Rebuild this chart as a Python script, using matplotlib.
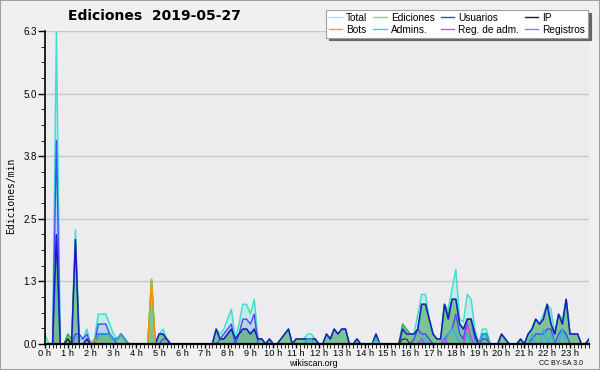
import matplotlib
matplotlib.use("Agg")
import matplotlib.pyplot as plt
from matplotlib.lines import Line2D
from matplotlib.patches import Rectangle
from matplotlib.ticker import FixedLocator, MultipleLocator
import numpy as np

# 10-minute bins, 00:00 .. 23:50, values in edits/min
total = [0.2, 0, 0, 6.3, 0, 0,
         0.2, 0.1, 2.3, 0.1, 0.1, 0.3,
         0, 0.1, 0.6, 0.6, 0.6, 0.4,
         0.2, 0.1, 0.2, 0.1, 0, 0,
         0, 0, 0, 0, 1.3, 0,
         0.2, 0.3, 0.1, 0, 0, 0,
         0, 0, 0, 0, 0, 0,
         0, 0, 0, 0.3, 0.2, 0.3,
         0.5, 0.7, 0.1, 0.4, 0.8, 0.8,
         0.6, 0.9, 0.1, 0.1, 0, 0.1,
         0, 0, 0.1, 0.2, 0.3, 0,
         0.1, 0.1, 0.1, 0.2, 0.2, 0.1,
         0, 0, 0.2, 0.1, 0.3, 0.2,
         0.3, 0.3, 0, 0, 0.1, 0,
         0, 0, 0, 0.2, 0, 0,
         0, 0, 0, 0, 0.4, 0.3,
         0.2, 0.2, 0.6, 1.0, 1.0, 0.5,
         0.2, 0.1, 0.1, 0.8, 0.7, 1.1,
         1.5, 0.5, 0.45, 1.0, 0.9, 0.3,
         0, 0.3, 0.3, 0, 0, 0,
         0.2, 0.1, 0, 0, 0, 0.1,
         0, 0.2, 0.3, 0.5, 0.4, 0.6,
         0.8, 0.7, 0.2, 0.6, 0.5, 0.9,
         0.2, 0.2, 0.2, 0, 0, 0.1]

ediciones = [0, 0, 0, 2.2, 0, 0,
             0.2, 0.1, 2.1, 0, 0, 0.1,
             0, 0.1, 0.2, 0.2, 0.2, 0.2,
             0.1, 0.1, 0.2, 0.1, 0, 0,
             0, 0, 0, 0, 1.3, 0,
             0.2, 0.2, 0.1, 0, 0, 0,
             0, 0, 0, 0, 0, 0,
             0, 0, 0, 0.3, 0.1, 0.1,
             0.2, 0.3, 0.1, 0.2, 0.3, 0.3,
             0.2, 0.3, 0.1, 0.1, 0, 0.1,
             0, 0, 0.1, 0.2, 0.3, 0,
             0.1, 0.1, 0.1, 0.1, 0.1, 0.1,
             0, 0, 0.2, 0.1, 0.3, 0.2,
             0.3, 0.3, 0, 0, 0.1, 0,
             0, 0, 0, 0.2, 0, 0,
             0, 0, 0, 0, 0.4, 0.3,
             0.2, 0.2, 0.3, 0.8, 0.8, 0.5,
             0.2, 0.1, 0.1, 0.8, 0.6, 0.9,
             0.9, 0.4, 0.3, 0.5, 0.5, 0.2,
             0, 0.2, 0.2, 0, 0, 0,
             0.2, 0.1, 0, 0, 0, 0.1,
             0, 0.2, 0.3, 0.5, 0.4, 0.5,
             0.8, 0.4, 0.2, 0.6, 0.4, 0.9,
             0.2, 0.2, 0.2, 0, 0, 0.1]

usuarios = [0, 0, 0, 2.2, 0, 0,
            0.1, 0, 2.1, 0, 0, 0.1,
            0, 0, 0.2, 0.2, 0.2, 0.2,
            0.1, 0.1, 0.2, 0.1, 0, 0,
            0, 0, 0, 0, 0, 0,
            0.2, 0.2, 0.1, 0, 0, 0,
            0, 0, 0, 0, 0, 0,
            0, 0, 0, 0.3, 0.1, 0.1,
            0.2, 0.3, 0.1, 0.2, 0.3, 0.3,
            0.2, 0.3, 0.1, 0.1, 0, 0.1,
            0, 0, 0.1, 0.2, 0.3, 0,
            0.1, 0.1, 0.1, 0.1, 0.1, 0.1,
            0, 0, 0.2, 0.1, 0.3, 0.2,
            0.3, 0.3, 0, 0, 0.1, 0,
            0, 0, 0, 0.2, 0, 0,
            0, 0, 0, 0, 0.3, 0.2,
            0.2, 0.2, 0.3, 0.8, 0.8, 0.5,
            0.2, 0.1, 0.1, 0.8, 0.5, 0.9,
            0.9, 0.4, 0.3, 0.5, 0.5, 0.2,
            0, 0.2, 0.2, 0, 0, 0,
            0.2, 0.1, 0, 0, 0, 0.1,
            0, 0.2, 0.3, 0.5, 0.4, 0.5,
            0.8, 0.4, 0.2, 0.6, 0.4, 0.9,
            0.2, 0.2, 0.2, 0, 0, 0.1]

registros = [0, 0, 0, 4.1, 0, 0,
             0.1, 0, 0.2, 0.2, 0.1, 0.2,
             0, 0, 0.4, 0.4, 0.4, 0.2,
             0.1, 0, 0, 0, 0, 0,
             0, 0, 0, 0, 0, 0,
             0, 0.1, 0.1, 0, 0, 0,
             0, 0, 0, 0, 0, 0,
             0, 0, 0, 0, 0.1, 0.2,
             0.3, 0.4, 0, 0.2, 0.5, 0.5,
             0.4, 0.6, 0, 0, 0, 0,
             0, 0, 0, 0, 0, 0,
             0, 0, 0, 0.1, 0.1, 0,
             0, 0, 0, 0, 0, 0,
             0, 0, 0, 0, 0, 0,
             0, 0, 0, 0, 0, 0,
             0, 0, 0, 0, 0, 0,
             0, 0.1, 0.3, 0.2, 0.2, 0.1,
             0, 0, 0, 0.1, 0.2, 0.3,
             0.6, 0.2, 0.1, 0.5, 0.5, 0.1,
             0, 0.1, 0.1, 0, 0, 0,
             0, 0, 0, 0, 0, 0,
             0, 0, 0.1, 0.2, 0.2, 0.2,
             0.3, 0.3, 0, 0.2, 0.3, 0.2,
             0, 0, 0, 0, 0, 0]

# sparse series: {bin: value}
ip = {6: 0.1, 94: 0.1, 95: 0.1}
bots = {13: 0.1, 28: 1.3}
admins = {14: 0.2, 15: 0.2, 16: 0.2, 17: 0.2, 18: 0.1, 19: 0.1, 20: 0.2, 21: 0.1,
          69: 0.1, 70: 0.1, 87: 0.1, 99: 0.1, 100: 0.1, 106: 0.2, 107: 0.3,
          108: 0.2, 111: 0.2, 115: 0.2, 116: 0.2, 128: 0.2, 131: 0.3, 133: 0.2, 136: 0.3}
reg_adm = {99: 0.1, 105: 0.1, 111: 0.4, 112: 0.1}

hours = [f"{h} h" for h in range(24)]

n = len(total)
t = np.arange(n) / 6.0


def dense(d):
    a = np.zeros(n)
    for k, v in d.items():
        a[k] = v
    return a


c_total = "#40e0d0"
c_edic = "#3cb043"
c_usu = "#1a1ac8"
c_ip = "#333333"
c_bots = "#ff9900"
c_adm = "#30b4e0"
c_regadm = "#c040f0"
c_reg = "#4848ff"

plt.rcParams["font.family"] = ["Liberation Sans", "DejaVu Sans"]

fig = plt.figure(figsize=(6, 3.7), dpi=100, facecolor="#f0f0f0")
ax = fig.add_axes([0.075, 0.0703, 0.9067, 0.8459])
ax.set_facecolor("#ececee")

ax.fill_between(t, total, color=c_total, alpha=0.2, lw=0)
ax.fill_between(t, registros, color="#4060ff", alpha=0.15, lw=0)
ax.fill_between(t, ediciones, color="#30a040", alpha=0.5, lw=0)

ax.plot(t, total, color=c_total, lw=1.1)
ax.plot(t, registros, color=c_reg, lw=1.0)
ax.plot(t, ediciones, color=c_edic, lw=1.0)
ax.plot(t, usuarios, color=c_usu, lw=1.1)
ax.plot(t, dense(admins), color=c_adm, lw=1.0)
ax.plot(t, dense(ip), color=c_ip, lw=0.9)
ax.plot(t, dense(bots), color=c_bots, lw=1.0)
ax.plot(t, dense(reg_adm), color=c_regadm, lw=1.0)

ax.set_xlim(0, t[-1])
ax.set_ylim(0, 6.3)

yt = np.linspace(0, 6.3, 6)
ax.yaxis.set_major_locator(FixedLocator(yt))
ax.set_yticklabels([f"{v:.1f}" for v in yt])
ax.yaxis.set_minor_locator(FixedLocator(np.linspace(0, 6.3, 21)))
ax.xaxis.set_major_locator(FixedLocator(range(24)))
ax.set_xticklabels(hours)
ax.xaxis.set_minor_locator(MultipleLocator(1 / 6))

ax.tick_params(axis="both", which="major", labelsize=7, direction="out", width=1, pad=1)
ax.tick_params(axis="x", which="major", pad=0.5, labelsize=6.7)
ax.tick_params(axis="y", which="major", length=5)
ax.tick_params(axis="y", which="minor", length=3)
ax.tick_params(axis="x", which="major", length=3)
ax.tick_params(axis="x", which="minor", length=3)

ax.yaxis.grid(True, color="#c8c8c8", lw=1)
ax.set_axisbelow(True)
for s in ["top", "right"]:
    ax.spines[s].set_visible(False)
ax.spines["left"].set_linewidth(1.2)
ax.spines["bottom"].set_linewidth(1.6)

fig.text(0.257, 0.957, "Ediciones  2019-05-27", ha="center", va="center",
         fontsize=10, fontweight="bold", family="DejaVu Sans")
fig.text(0.018, 0.47, "Ediciones/min", rotation=90, ha="center", va="center",
         fontsize=7, family="DejaVu Sans Mono")
fig.text(0.522, 0.005, "wikiscan.org", ha="center", va="bottom", fontsize=6.3)
fig.text(0.935, 0.008, "CC BY-SA 3.0", ha="center", va="bottom", fontsize=5)

labels = ["Total", "Bots", "Ediciones", "Admins.", "Usuarios", "Reg. de adm.", "IP", "Registros"]
cols = ["#a8e8e0", "#f0a040", "#90d090", "#50c8e0", "#4040e0", "#d050e0", "#202020", "#8080f0"]
handles = [Line2D([], [], color=c, lw=1) for c in cols]
leg = fig.legend(handles, labels, ncol=4, loc="upper right",
                 bbox_to_anchor=(0.98, 0.973), fontsize=7.3, frameon=True,
                 fancybox=False, shadow={"color": "#666666", "alpha": 1},
                 handlelength=1.3, handletextpad=0.4, columnspacing=0.6,
                 labelspacing=0.15, borderpad=0.3, borderaxespad=0)
leg.get_frame().set_edgecolor("#a0a0a0")
leg.get_frame().set_facecolor("white")
leg.get_frame().set_linewidth(0.8)

fig.patches.append(Rectangle((0, 0), 1, 1, transform=fig.transFigure, fill=False,
                             edgecolor="#a0a0a0", lw=1.5))

fig.savefig("out.png", dpi=100, facecolor=fig.get_facecolor())
